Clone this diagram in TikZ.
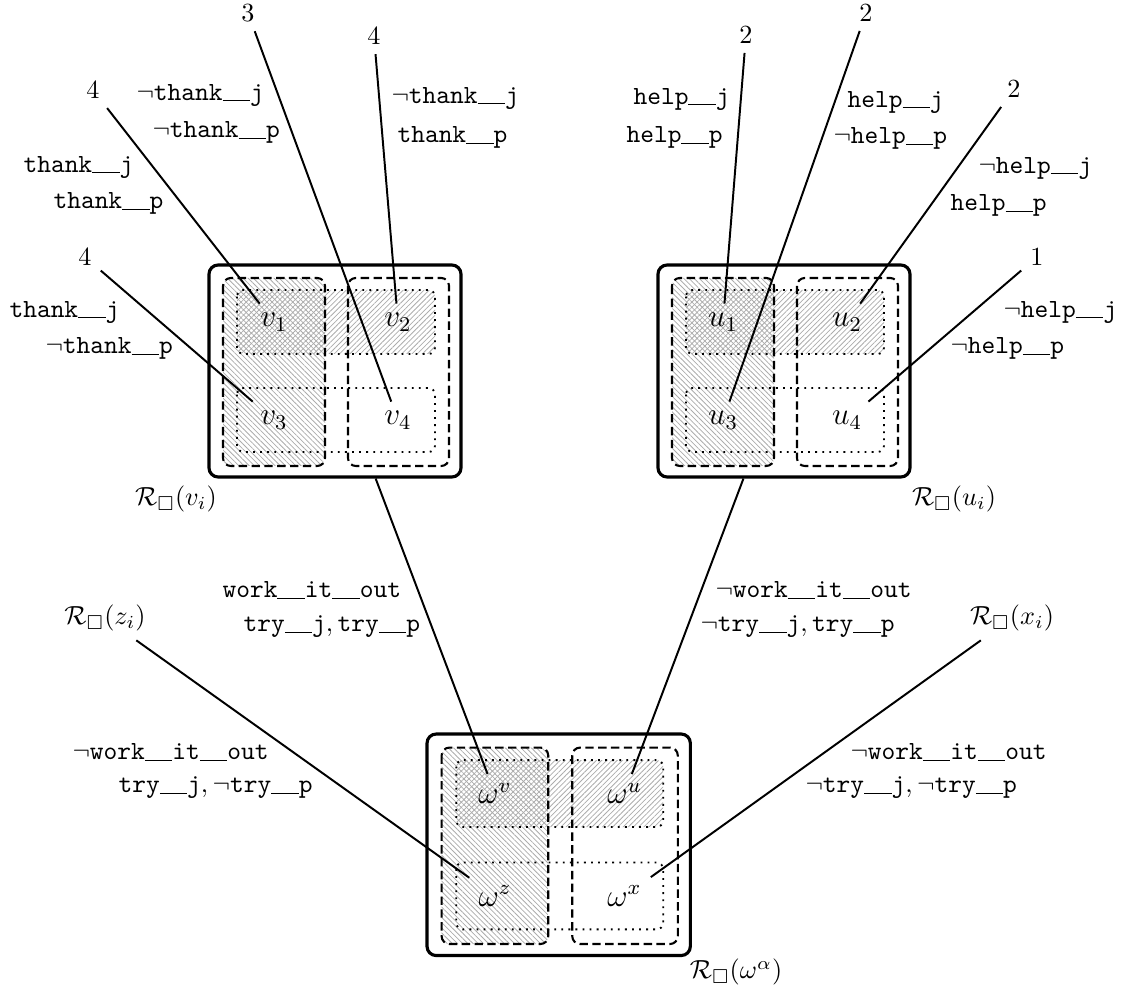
\documentclass[tikz,border=0pt]{standalone}
\usepackage{amssymb}
\usetikzlibrary{patterns.meta,fit}
\tikzset{
  outerbox/.style={draw, line width=1.2pt, rounded corners=3.5pt, inner sep=0pt},
  colbox/.style={line width=0.8pt, dash pattern=on 3.2pt off 1.7pt, rounded corners=3pt},
  rowbox/.style={line width=0.7pt, dotted, rounded corners=2.5pt},
  hatchA/.style={pattern={Lines[angle=-45,distance=1.4pt,line width=0.3pt]}, pattern color=gray!65},
  hatchB/.style={pattern={Lines[angle=45,distance=1.4pt,line width=0.3pt]}, pattern color=gray!65},
  lbl/.style={inner sep=0pt, anchor=west},
  num/.style={inner sep=3.33pt},
  wlab/.style={font=\large},
  conn/.style={line width=0.75pt},
}
\newcommand{\tw}[1]{\texttt{#1}}
\newcommand{\us}{\makebox[0.525em][l]{\rule[-0.5pt]{0.525em}{0.33pt}}}
\begin{document}
\begin{tikzpicture}[x=0.382pt,y=-0.382pt]
\useasboundingbox (0,0) rectangle (1121,994);

% ---------- world box v ----------
\begin{scope}[shift={(209,265)}]
  \fill[hatchA, rounded corners=3pt] (14,13) rectangle (116,201);
  \fill[hatchB, rounded corners=2.5pt] (28,25) rectangle (226,89);
  \draw[colbox] (14,13) rectangle (116,201);
  \draw[colbox] (139,13) rectangle (240,201);
  \draw[rowbox] (28,25) rectangle (226,89);
  \draw[rowbox] (28,123) rectangle (226,187);
  \node[outerbox, fit={(0,0)(252,212)}] (V) {};
  \node[wlab] (v1) at (65,57) {$v_1$};
  \node[wlab] (v2) at (189,57) {$v_2$};
  \node[wlab] (v3) at (65,155) {$v_3$};
  \node[wlab] (v4) at (189,155) {$v_4$};
\end{scope}

% ---------- world box u ----------
\begin{scope}[shift={(658,265)}]
  \fill[hatchA, rounded corners=3pt] (14,13) rectangle (116,201);
  \fill[hatchB, rounded corners=2.5pt] (28,25) rectangle (226,89);
  \draw[colbox] (14,13) rectangle (116,201);
  \draw[colbox] (139,13) rectangle (240,201);
  \draw[rowbox] (28,25) rectangle (226,89);
  \draw[rowbox] (28,123) rectangle (226,187);
  \node[outerbox, fit={(0,0)(252,212)}] (U) {};
  \node[wlab] (u1) at (65,57) {$u_1$};
  \node[wlab] (u2) at (189,57) {$u_2$};
  \node[wlab] (u3) at (65,155) {$u_3$};
  \node[wlab] (u4) at (189,155) {$u_4$};
\end{scope}

% ---------- world box omega ----------
\begin{scope}[shift={(427,734)}, scale=1.045]
  \fill[hatchA, rounded corners=3pt] (14,13) rectangle (116,201);
  \fill[hatchB, rounded corners=2.5pt] (28,25) rectangle (226,89);
  \draw[colbox] (14,13) rectangle (116,201);
  \draw[colbox] (139,13) rectangle (240,201);
  \draw[rowbox] (28,25) rectangle (226,89);
  \draw[rowbox] (28,123) rectangle (226,187);
  \node[outerbox, fit={(0,0)(252,212)}] (W) {};
  \node[wlab] (wv) at (65,57) {$\omega^v$};
  \node[wlab] (wu) at (189,57) {$\omega^u$};
  \node[wlab] (wz) at (65,155) {$\omega^z$};
  \node[wlab] (wx) at (189,155) {$\omega^x$};
\end{scope}

% ---------- box labels ----------
\node (Rv) at (176,499) {$\mathcal{R}_\Box(v_i)$};
\node (Ru) at (954,499) {$\mathcal{R}_\Box(u_i)$};
\node (Rz) at (105,618) {$\mathcal{R}_\Box(z_i)$};
\node (Rx) at (1012,618) {$\mathcal{R}_\Box(x_i)$};
\node (Rw) at (736,972) {$\mathcal{R}_\Box(\omega^\alpha)$};

% ---------- numbers ----------
\node[num] (n1) at (93,90) {4};
\node[num] (n2) at (248,13) {3};
\node[num] (n3) at (374,36) {4};
\node[num] (n4) at (85,257) {4};
\node[num] (m1) at (746,35) {2};
\node[num] (m2) at (866,13) {2};
\node[num] (m3) at (1014,89) {2};
\node[num] (m4) at (1037,257) {1};

% ---------- text labels: thank ----------
\node[lbl] (t1a) at (136,95) {$\neg$\tw{thank\us\us j}};
\node[lbl] (t1b) at (152,132) {$\neg$\tw{thank\us\us p}};
\node[lbl] (t2a) at (23,167) {\tw{thank\us\us j}};
\node[lbl] (t2b) at (53,203) {\tw{thank\us\us p}};
\node[lbl] (t3a) at (9,312) {\tw{thank\us\us j}};
\node[lbl] (t3b) at (45,348) {$\neg$\tw{thank\us\us p}};
\node[lbl] (t4a) at (391,98) {$\neg$\tw{thank\us\us j}};
\node[lbl] (t4b) at (397,137) {\tw{thank\us\us p}};

% ---------- text labels: help ----------
\node[lbl] (h1a) at (633,99) {\tw{help\us\us j}};
\node[lbl] (h1b) at (626,137) {\tw{help\us\us p}};
\node[lbl] (h2a) at (847,102) {\tw{help\us\us j}};
\node[lbl] (h2b) at (833,138) {$\neg$\tw{help\us\us p}};
\node[lbl] (h3a) at (978,168) {$\neg$\tw{help\us\us j}};
\node[lbl] (h3b) at (950,205) {\tw{help\us\us p}};
\node[lbl] (h4a) at (1003,312) {$\neg$\tw{help\us\us j}};
\node[lbl] (h4b) at (950,348) {$\neg$\tw{help\us\us p}};

% ---------- text labels: work ----------
\node[lbl] (w1a) at (222,590) {\tw{work\us\us it\us\us out}};
\node[lbl] (w1b) at (243,627) {$\tw{try\us\us j},\tw{try\us\us p}$};
\node[lbl] (w2a) at (715,590) {$\neg$\tw{work\us\us it\us\us out}};
\node[lbl] (w2b) at (700,627) {$\neg\tw{try\us\us j},\tw{try\us\us p}$};
\node[lbl] (w3a) at (72,752) {$\neg$\tw{work\us\us it\us\us out}};
\node[lbl] (w3b) at (118,788) {$\tw{try\us\us j},\neg\tw{try\us\us p}$};
\node[lbl] (w4a) at (850,752) {$\neg$\tw{work\us\us it\us\us out}};
\node[lbl] (w4b) at (805,788) {$\neg\tw{try\us\us j},\neg\tw{try\us\us p}$};

% ---------- connectors ----------
\draw[conn] (n1) -- (v1);
\draw[conn] (n2) -- (v4);
\draw[conn] (n3) -- (v2);
\draw[conn] (n4) -- (v3);
\draw[conn] (m1) -- (u1);
\draw[conn] (m2) -- (u3);
\draw[conn] (m3) -- (u2);
\draw[conn] (m4) -- (u4);
\draw[conn] (V) -- (wv);
\draw[conn] (U) -- (wu);
\draw[conn] (Rz) -- (wz);
\draw[conn] (Rx) -- (wx);
\end{tikzpicture}
\end{document}
